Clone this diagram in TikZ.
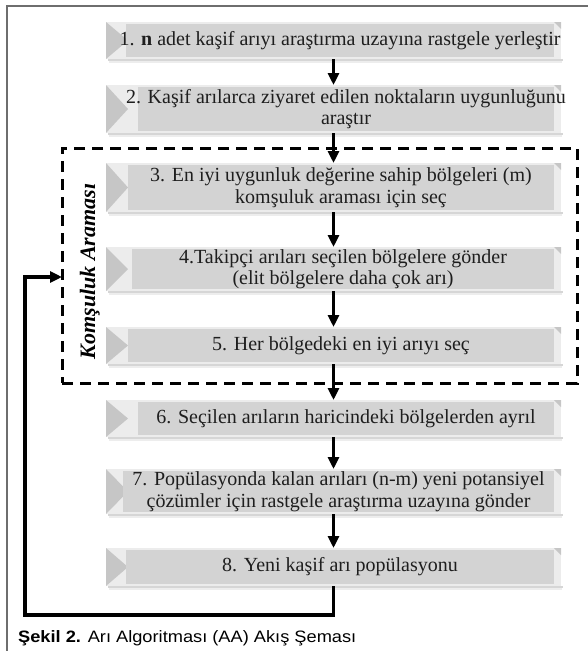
\documentclass[tikz,border=0pt]{standalone}
\usepackage{fontspec}
\setmainfont{Liberation Serif}
\newfontfamily\capfont{Liberation Sans}
\usetikzlibrary{arrows.meta}
\definecolor{facec}{RGB}{211,211,211}
\definecolor{lightc}{RGB}{236,236,236}
\definecolor{tric}{RGB}{198,198,198}
\definecolor{framec}{RGB}{110,110,110}
\definecolor{txtc}{RGB}{30,30,30}
\tikzset{
  outerbox/.style={draw=none, fill=lightc, minimum width=455pt, inner sep=0pt, outer sep=0pt},
  boxtext/.style={font=\fontsize{20}{21.5}\selectfont, align=center, text=txtc, inner sep=0pt},
  arr/.style={line width=3.1pt, -{Triangle[length=12pt,width=11pt]}},
  dashedframe/.style={draw, line width=3pt, dash pattern=on 11pt off 7pt, minimum width=515pt, minimum height=235pt, inner sep=0pt, outer sep=0pt},
  framestyle/.style={draw=framec, line width=1.6pt},
  looparrow/.style={line width=3.2pt, line join=miter, -{Triangle[length=12pt,width=11pt]}},
}
\newcommand\beebox[5]{%
  \pgfmathsetmacro\bmid{(#2+#3)/2}%
  \pgfmathsetmacro\bh{#3-#2}%
  \pgfmathsetmacro\tmid{(#4+554)/2}%
  \fill[black, opacity=.16] (108,#3) rectangle (563,#3+2);
  \fill[black, opacity=.07] (109,#3+2) rectangle (562,#3+4);
  \node[outerbox, minimum height=\bh pt] (#1) at (333.5,\bmid) {};
  \fill[tric] (106,#2) -- (106,#3) -- (128,\bmid) -- cycle;
  \fill[facec] (#4,#2+2) rectangle (554,#3-2);
  \fill[tric] (554,#2) -- (561,#2) -- (561,#2+7) -- cycle;
  \node[boxtext] (#1t) at (\tmid,\bmid) {#5};
}
\begin{document}
\begin{tikzpicture}[x=1pt,y=-1pt]
\useasboundingbox (0,0) rectangle (588,651);
\draw[framestyle] (7,651) -- (7,6) -- (588,6);

\beebox{b1}{22}{59}{126}{1. \textbf{n} adet kaşif arıyı araştırma uzayına rastgele yerleştir}
\beebox{b2}{85}{133}{138}{2. Kaşif arılarca ziyaret edilen noktaların uygunluğunu\\araştır}
\beebox{b3}{163}{212}{128}{3. En iyi uygunluk değerine sahip bölgeleri (m)\\komşuluk araması için seç}
\beebox{b4}{247}{291}{132}{4.Takipçi arıları seçilen bölgelere gönder\\(elit bölgelere daha çok arı)}
\beebox{b5}{327}{364}{128}{5. Her bölgedeki en iyi arıyı seç}
\beebox{b6}{400}{437}{138}{6. Seçilen arıların haricindeki bölgelerden ayrıl}
\beebox{b7}{469}{514}{123}{7. Popülasyonda kalan arıları (n-m) yeni potansiyel\\çözümler için rastgele araştırma uzayına gönder}
\beebox{b8}{548}{586}{126}{8. Yeni kaşif arı popülasyonu}

\node[dashedframe] (nb) at (319.5,265.5) {};
\node[rotate=90, anchor=base, font=\fontsize{22}{24}\selectfont\bfseries\itshape, inner sep=0pt] (kl) at (95,271.5) {Komşuluk Araması};

\draw[arr] (b1) -- (b2);
\draw[arr] (b2) -- (b3);
\draw[arr] (b3) -- (b4);
\draw[arr] (b4) -- (b5);
\draw[arr] (b5) -- (b6);
\draw[arr] (b6) -- (b7);
\draw[arr] (b7) -- (b8);

\coordinate (lp) at (62,277);
\draw[looparrow] (b8.south) |- (25,615) |- (lp);

\node[anchor=base west, inner sep=0pt, font=\capfont\fontsize{16.5}{19}\selectfont] (cap) at (18,642) {\scalebox{1.105}[1]{\textbf{Şekil 2.} Arı Algoritması (AA) Akış Şeması}};
\end{tikzpicture}
\end{document}
